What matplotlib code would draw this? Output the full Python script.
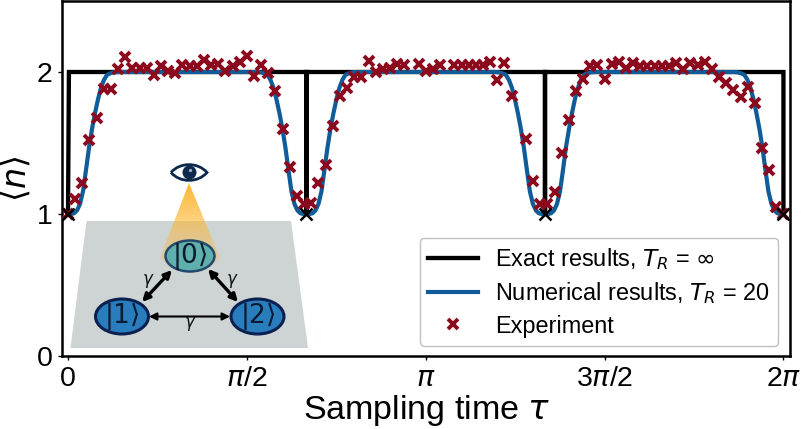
import numpy as np
import matplotlib
matplotlib.use('Agg')
import matplotlib.pyplot as plt
from matplotlib.patches import Polygon, Ellipse, Circle, PathPatch
from matplotlib.path import Path

plt.rcParams['font.family'] = ['Liberation Sans', 'DejaVu Sans']

# exact result: flat at 2, one-point dips to 1 at multiples of 2pi/3
exact_tau = [0, 0.008, 2.094, 2.094, 2.094, 4.189, 4.189, 4.189, 6.275, 6.283, 6.283]
exact_n = [1, 2, 2, 1, 2, 2, 1, 2, 2, 2, 1]
dip_tau = [0, 2.094, 4.189, 6.283]
dip_n = [1, 1, 1, 1]

numeric_tau = [
    0, .026, .053, .079, .105, .132, .158, .185, .211, .237, .264, .290, .316, .343, .369, .404, .439,
    1.655, 1.690, 1.725, 1.751, 1.778, 1.804, 1.830, 1.857, 1.883, 1.909, 1.936, 1.962, 1.989, 2.015, 2.041, 2.068, 2.094,
    2.120, 2.147, 2.173, 2.199, 2.226, 2.252, 2.279, 2.305, 2.331, 2.358, 2.384, 2.410, 2.437, 2.463, 2.498, 2.533,
    3.749, 3.784, 3.819, 3.845, 3.872, 3.898, 3.924, 3.951, 3.977, 4.003, 4.030, 4.056, 4.083, 4.109, 4.135, 4.162, 4.189,
    4.215, 4.242, 4.268, 4.294, 4.321, 4.347, 4.373, 4.400, 4.426, 4.452, 4.479, 4.505, 4.532, 4.558, 4.593, 4.628,
    5.844, 5.879, 5.914, 5.940, 5.967, 5.993, 6.019, 6.046, 6.072, 6.098, 6.125, 6.151, 6.178, 6.204, 6.230, 6.257, 6.283,
]
numeric_n = [
    1.00, 1.00, 1.005, 1.025, 1.07, 1.16, 1.31, 1.47, 1.60, 1.71, 1.81, 1.89, 1.945, 1.98, 1.99, 1.998, 2.0,
    2.0, 1.998, 1.99, 1.98, 1.945, 1.89, 1.81, 1.71, 1.60, 1.47, 1.31, 1.16, 1.07, 1.025, 1.005, 1.00, 1.00,
    1.00, 1.005, 1.025, 1.07, 1.16, 1.31, 1.47, 1.60, 1.71, 1.81, 1.89, 1.945, 1.98, 1.99, 1.998, 2.0,
    2.0, 1.998, 1.99, 1.98, 1.945, 1.89, 1.81, 1.71, 1.60, 1.47, 1.31, 1.16, 1.07, 1.025, 1.005, 1.00, 1.00,
    1.00, 1.005, 1.025, 1.07, 1.16, 1.31, 1.47, 1.60, 1.71, 1.81, 1.89, 1.945, 1.98, 1.99, 1.998, 2.0,
    2.0, 1.998, 1.99, 1.98, 1.945, 1.89, 1.81, 1.71, 1.60, 1.47, 1.31, 1.16, 1.07, 1.025, 1.005, 1.00, 1.00,
]

expt_tau = [
    0, .063, .126, .188, .251, .314, .377, .440, .503, .565, .628, .691, .754, .817, .880, .942,
    1.005, 1.068, 1.131, 1.194, 1.257, 1.319, 1.382, 1.445, 1.508, 1.571, 1.634, 1.696, 1.759, 1.822, 1.885, 1.948,
    2.011, 2.073, 2.136, 2.199, 2.262, 2.325, 2.388, 2.450, 2.513, 2.576, 2.639, 2.702, 2.765, 2.827, 2.890, 2.953,
    3.079, 3.142, 3.204, 3.267, 3.393, 3.456, 3.519, 3.581, 3.644, 3.707, 3.770, 3.833, 3.896,
    4.021, 4.084, 4.147, 4.210, 4.273, 4.335, 4.398, 4.461, 4.524, 4.587, 4.650, 4.712, 4.775, 4.838, 4.901,
    4.964, 5.027, 5.089, 5.152, 5.215, 5.278, 5.341, 5.404, 5.466, 5.529, 5.592, 5.655, 5.718, 5.781, 5.843,
    5.906, 5.969, 6.032, 6.095, 6.158, 6.220, 6.283,
]
expt_n = [
    1.0, 1.108, 1.218, 1.519, 1.678, 1.880, 1.878, 2.023, 2.103, 2.028, 2.030, 2.030, 1.977, 2.045, 2.007, 1.995,
    2.052, 2.045, 2.045, 2.084, 2.052, 2.056, 2.007, 2.045, 2.070, 2.113, 1.974, 2.047, 1.991, 1.868, 1.596, 1.333,
    1.124, 1.070, 1.080, 1.218, 1.345, 1.620, 1.831, 1.887, 1.962, 1.967, 2.075, 1.998, 2.021, 2.030, 2.056, 2.049,
    2.054, 2.009, 2.023, 2.047, 2.049, 2.049, 2.049, 2.049, 2.049, 2.070, 1.941, 2.063, 1.831,
    1.531, 1.230, 1.070, 1.070, 1.157, 1.427, 1.662, 1.864, 1.953, 2.042, 2.047, 1.953, 2.056, 2.070, 2.030,
    2.061, 2.045, 2.045, 2.045, 2.045, 2.045, 2.061, 2.019, 2.066, 2.049, 2.068, 2.021, 1.962, 1.920, 1.873,
    1.822, 1.897, 1.784, 1.462, 1.310, 1.052, 1.0,
]

x_ticks = [0, np.pi / 2, np.pi, 3 * np.pi / 2, 2 * np.pi]
x_labels = ['0', r'$\pi$/2', r'$\pi$', r'3$\pi$/2', r'2$\pi$']
y_ticks = [0, 1, 2]

BLACK = '#000000'
BLUE = '#0f5c99'
RED = '#8c0a1e'
NAVY = '#0c2a4d'

W, H = 802, 429
fig = plt.figure(figsize=(W / 100, H / 100), dpi=100)
ax = fig.add_axes([62 / W, 1 - 356 / H, (790.5 - 62) / W, 355 / H])

ax.plot(exact_tau, exact_n, color=BLACK, linewidth=3.1, label=r'Exact results, $T_R$ = $\infty$', zorder=2, solid_joinstyle='miter')
ax.plot(numeric_tau, numeric_n, color=BLUE, linewidth=3, label=r'Numerical results, $T_R$ = 20', zorder=3)
ax.plot(expt_tau, expt_n, linestyle='none', marker='x', color=RED, markersize=6.5, markeredgewidth=2.8, label='Experiment', zorder=4)
ax.plot(dip_tau, dip_n, linestyle='none', marker='x', color=BLACK, markersize=8.5, markeredgewidth=1.8, zorder=5, clip_on=False)

ax.set_xlim(-0.0528, 6.345)
ax.set_ylim(0, 2.5)
ax.set_xticks(x_ticks)
ax.set_xticklabels(x_labels)
ax.set_yticks(y_ticks)
ax.tick_params(labelsize=20.5, length=3, width=1, pad=4)
for s in ax.spines.values():
    s.set_linewidth(1.8)
ax.set_xlabel(r'Sampling time $\tau$', fontsize=24.5, labelpad=1)
ax.set_ylabel(r'$\langle n \rangle$', fontsize=24, labelpad=3)

leg = ax.legend(loc='lower right', bbox_to_anchor=(0.9835, 0.0285), fontsize=16.9, borderaxespad=0,
                handlelength=2.15, handletextpad=0.72, labelspacing=0.36, borderpad=0.35, edgecolor='#c0c0c0', framealpha=1)
leg.set_zorder(6)

# inset sketch, drawn in figure pixels
sk = fig.add_axes([0, 0, 1, 1], zorder=3)
sk.set_xlim(0, W)
sk.set_ylim(H, 0)
sk.axis('off')
sk.patch.set_alpha(0)

sk.add_patch(Polygon([(86.5, 221), (291, 221), (308, 348), (70.5, 348)], closed=True, color='#ced3d4', lw=0, zorder=1))

# light cone from the eye down to the |0> state
cone = Polygon([(189, 183), (160, 258), (170, 268), (209, 268), (220, 258)], closed=True, facecolor='none', edgecolor='none', zorder=2)
sk.add_patch(cone)
grad = np.zeros((64, 2, 4))
grad[:, :, :3] = matplotlib.colors.to_rgb('#fcb52f')
grad[:, :, 3] = np.linspace(1.0, 0.15, 64)[:, None]
img = sk.imshow(grad, extent=(155, 225, 270, 180), aspect='auto', zorder=2, interpolation='bilinear')
img.set_clip_path(cone)
sk.set_xlim(0, W)
sk.set_ylim(H, 0)

sk.add_patch(Ellipse((190, 256), 49, 31, facecolor='#5fb0ad', edgecolor='#24496b', linewidth=1.8, zorder=3))
sk.add_patch(Ellipse((122, 316.5), 53, 35, facecolor='#2a7dbd', edgecolor='#0a2050', linewidth=2.2, zorder=3))
sk.add_patch(Ellipse((257.5, 316.5), 53, 35, facecolor='#2a7dbd', edgecolor='#0a2050', linewidth=2.2, zorder=3))
for cx, cy, txt in [(190, 256, r'$|0\rangle$'), (122, 316.5, r'$|1\rangle$'), (257.5, 316.5, r'$|2\rangle$')]:
    sk.text(cx, cy, txt, fontsize=19, ha='center', va='center', color='#0a1a30', zorder=4)

for p0, p1, lw in [((172, 270), (142, 302), 2.4), ((208, 269), (238, 302), 2.4), ((149, 316.5), (230, 316.5), 1.5)]:
    sk.annotate('', xy=p1, xytext=p0, zorder=4,
                arrowprops=dict(arrowstyle='<|-|>', color=BLACK, lw=lw, mutation_scale=11, shrinkA=0, shrinkB=0))
for gx, gy in [(148, 281), (232.5, 281), (190.5, 324)]:
    sk.text(gx, gy, r'$\gamma$', fontsize=12, ha='center', va='center', color='#111111', zorder=4)

# eye
eye = Path([(171, 172.5), (180, 162), (198, 162), (207, 172.5), (198, 183), (180, 183), (171, 172.5)],
           [Path.MOVETO, Path.CURVE4, Path.CURVE4, Path.CURVE4, Path.CURVE4, Path.CURVE4, Path.CURVE4])
sk.add_patch(PathPatch(eye, facecolor='white', edgecolor=NAVY, linewidth=2, zorder=5))
sk.add_patch(Circle((189.5, 172.5), 7, facecolor=NAVY, edgecolor='none', zorder=6))
sk.add_patch(Circle((190.5, 170.5), 1.6, facecolor='#9fb4c8', edgecolor='none', zorder=7))

plt.savefig('out.png', dpi=100)
